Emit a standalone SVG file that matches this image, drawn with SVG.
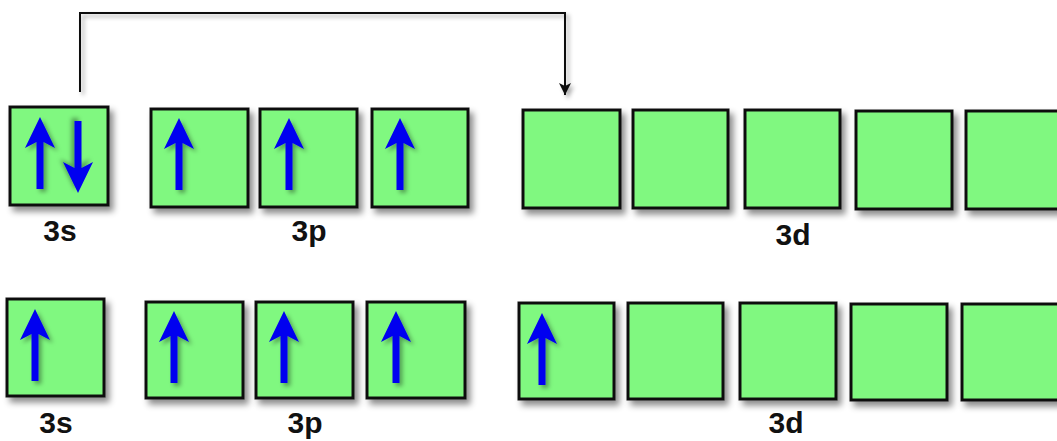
<svg xmlns="http://www.w3.org/2000/svg" width="1057" height="441" viewBox="0 0 1057 441">
<defs>
<filter id="sh" x="-20%" y="-20%" width="150%" height="150%">
<feDropShadow dx="4" dy="5" stdDeviation="3" flood-color="#000" flood-opacity="0.45"/>
</filter>
<filter id="sh2" x="-50%" y="-20%" width="200%" height="150%">
<feDropShadow dx="3" dy="3" stdDeviation="2" flood-color="#000" flood-opacity="0.35"/>
</filter>
<path id="up" d="M0,0 L15,31 L3.5,25 L3.5,72 L-3.5,72 L-3.5,25 L-15,31 Z"/>
<marker id="ah" markerWidth="14" markerHeight="14" refX="12" refY="7" orient="auto" markerUnits="userSpaceOnUse">
<path d="M0,1 L12,7 L0,13 L3,7 Z" fill="#111"/>
</marker>
</defs>
<style>
.box{fill:#80f880;stroke:#111;stroke-width:3;filter:url(#sh)}
.arr{fill:#0000f0;filter:url(#sh2)}
.lbl{font-family:"Liberation Sans",Arial,sans-serif;font-weight:bold;font-size:30px;fill:#111;text-anchor:middle}
.conn{fill:none;stroke:#111;stroke-width:2;filter:url(#sh2)}
</style>
<rect width="1057" height="441" fill="#fff"/>
<g id="connectors">
<path class="conn" d="M80,92 L80,13 L565,13 L565,95" marker-end="url(#ah)"/>
</g>
<g id="top-3s">
<rect class="box" x="10" y="107" width="98" height="98"/>
<use class="arr" href="#up" x="40" y="117"/>
<use class="arr" href="#up" transform="translate(78,193) rotate(180)"/>
<text class="lbl" x="60" y="241">3s</text>
</g>
<g id="top-3p">
<rect class="box" x="151" y="109" width="97" height="98"/>
<rect class="box" x="260" y="109" width="97" height="98"/>
<rect class="box" x="372" y="109" width="96" height="98"/>
<use class="arr" href="#up" x="179" y="118"/>
<use class="arr" href="#up" x="289" y="118"/>
<use class="arr" href="#up" x="400" y="118"/>
<text class="lbl" x="309" y="241">3p</text>
</g>
<g id="top-3d">
<rect class="box" x="523" y="110" width="97" height="98"/>
<rect class="box" x="633" y="110" width="95" height="98"/>
<rect class="box" x="745" y="110" width="95" height="98"/>
<rect class="box" x="856" y="111" width="96" height="98"/>
<rect class="box" x="966" y="111" width="100" height="98"/>
<text class="lbl" x="793" y="245">3d</text>
</g>
<g id="bottom-3s">
<rect class="box" x="7" y="299" width="97" height="97"/>
<use class="arr" href="#up" x="35" y="309"/>
<text class="lbl" x="56" y="433">3s</text>
</g>
<g id="bottom-3p">
<rect class="box" x="146" y="302" width="97" height="96"/>
<rect class="box" x="256" y="302" width="97" height="96"/>
<rect class="box" x="367" y="302" width="98" height="96"/>
<use class="arr" href="#up" x="174" y="311"/>
<use class="arr" href="#up" x="284" y="311"/>
<use class="arr" href="#up" x="396" y="311"/>
<text class="lbl" x="305" y="433">3p</text>
</g>
<g id="bottom-3d">
<rect class="box" x="519" y="303" width="95" height="96"/>
<rect class="box" x="628" y="303" width="95" height="96"/>
<rect class="box" x="740" y="303" width="96" height="96"/>
<rect class="box" x="851" y="304" width="96" height="96"/>
<rect class="box" x="962" y="304" width="100" height="96"/>
<use class="arr" href="#up" x="542" y="313"/>
<text class="lbl" x="786" y="433">3d</text>
</g>
</svg>
